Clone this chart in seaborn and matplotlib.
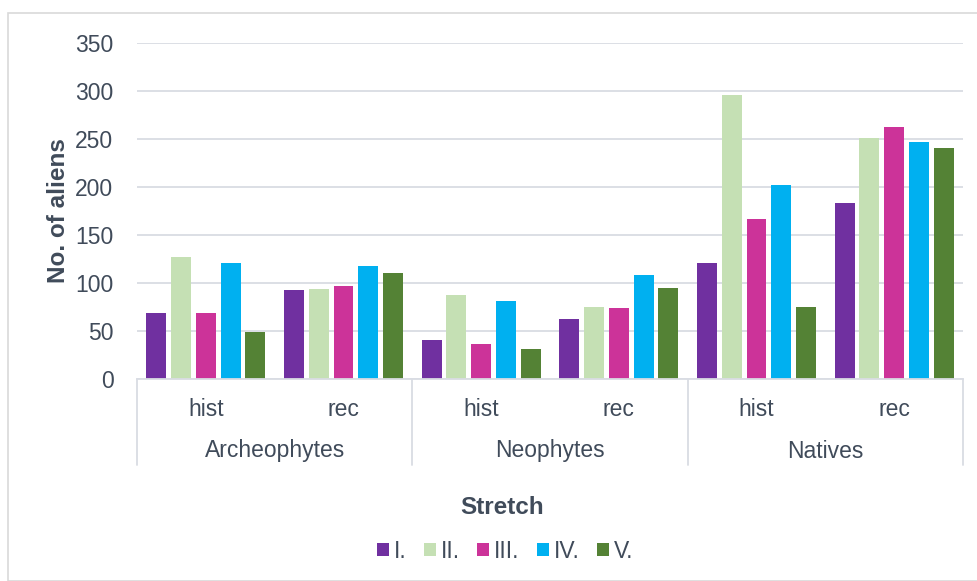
import pandas as pd
import matplotlib.pyplot as plt
import matplotlib.transforms as mtransforms
from matplotlib.patches import Rectangle
import seaborn as sns

# Data
groups = ['Archeophytes', 'Neophytes', 'Natives']
periods = ['hist', 'rec']
stretches = ['I.', 'II.', 'III.', 'IV.', 'V.']
colors = ['#7030A0', '#C5E0B4', '#CC3399', '#00B0F0', '#548235']

# one list per stretch, order: Arch hist, Arch rec, Neo hist, Neo rec, Nat hist, Nat rec
s1 = [69, 93, 41, 63, 121, 183]
s2 = [127, 94, 87, 75, 296, 251]
s3 = [69, 97, 36, 74, 167, 263]
s4 = [121, 118, 81, 108, 202, 247]
s5 = [49, 110, 31, 95, 75, 241]

series = [s1, s2, s3, s4, s5]
slots = [g + ' ' + p for g in groups for p in periods]
rows = []
for name, vals in zip(stretches, series):
    for slot, v in zip(slots, vals):
        rows.append({'slot': slot, 'stretch': name, 'value': v})
df = pd.DataFrame(rows)

sns.set_style('white')
plt.rcParams['font.family'] = ['Liberation Sans', 'DejaVu Sans']
text_col = '#404B5A'
grid_col = '#D9DCE3'
fs = 16.5

fig = plt.figure(figsize=(9.78, 5.81), dpi=100)
ax = fig.add_axes([137 / 978, 1 - 379 / 581, 826 / 978, 336 / 581])

sns.barplot(data=df, x='slot', y='value', hue='stretch', order=slots,
            hue_order=stretches, palette=colors, saturation=1, width=0.9,
            gap=0.2, linewidth=0, ax=ax, legend=True)

ax.set_ylim(0, 350)
ax.set_xlim(-0.5, len(slots) - 0.5)
ax.set_yticks(range(0, 351, 50))
ax.yaxis.grid(True, color=grid_col, linewidth=1.3)
ax.set_axisbelow(True)
for s in ['top', 'right', 'left']:
    ax.spines[s].set_visible(False)
ax.spines['bottom'].set_color(grid_col)
ax.spines['bottom'].set_linewidth(1.3)
ax.tick_params(axis='y', length=0, pad=17, labelsize=fs, labelcolor=text_col)
ax.tick_params(axis='x', length=0, pad=14, labelsize=fs, labelcolor=text_col)
ax.set_xticks(range(len(slots)))
ax.set_xticklabels([p for g in groups for p in periods])

ax.set_xlabel('')
ax.set_ylabel('No. of aliens', fontsize=17.5, fontweight='bold', color=text_col)
ax.yaxis.set_label_coords(-0.081, 0.5)

# multi-level category axis
trans = mtransforms.blended_transform_factory(ax.transData, ax.transAxes)
for i, g in enumerate(groups):
    ax.text(2 * i + 0.5, -72 / 336, g, transform=trans, ha='center', va='center',
            fontsize=fs, color=text_col)
for x in [-0.5, 1.5, 3.5, 5.5]:
    ax.plot([x, x], [0, -86 / 336], transform=trans, color=grid_col,
            linewidth=1.3, clip_on=False)

fig.text(502 / 978, 1 - 508 / 581, 'Stretch', ha='center', va='center',
         fontsize=17.5, fontweight='bold', color=text_col)

handles, labels = ax.get_legend_handles_labels()
ax.get_legend().remove()
fig.legend(handles, labels, loc='center', bbox_to_anchor=(505 / 978, 1 - 551 / 581),
           ncol=5, frameon=False, fontsize=fs, handlelength=0.52,
           handleheight=0.52, handletextpad=0.22, columnspacing=0.75,
           labelcolor=text_col)

# chart border
fig.patches.append(Rectangle((8 / 978, 0), 1, 1 - 13 / 581, transform=fig.transFigure,
                             fill=False, edgecolor='#D9D9D9', linewidth=1.2))

fig.savefig('out.png', dpi=100)
